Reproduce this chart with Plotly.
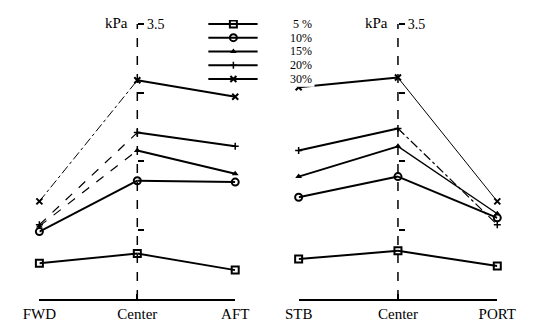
import plotly.graph_objects as go

# Pressure (kPa) along the fore-aft and port-starboard sections
fore_aft = ["FWD", "Center", "AFT"]
port_stb = ["STB", "Center", "PORT"]
series = ["5 %", "10%", "15%", "20%", "30%"]

fa_values = {
    "5 %": [1.76, 1.83, 1.71],
    "10%": [1.99, 2.36, 2.35],
    "15%": [2.03, 2.58, 2.41],
    "20%": [2.04, 2.71, 2.61],
    "30%": [2.21, 3.09, 2.97],
}
ps_values = {
    "5 %": [1.79, 1.85, 1.74],
    "10%": [2.24, 2.39, 2.09],
    "15%": [2.39, 2.61, 2.12],
    "20%": [2.58, 2.74, 2.04],
    "30%": [3.04, 3.11, 2.21],
}
y_ticks = [2.0, 2.5, 3.0, 3.5]
y_tick_text = ["", "", "", "3.5"]

W, H = 534, 322
M_T, M_B = 20, 18
PLOT_H = H - M_T - M_B
Y_MIN = 1.5
Y_MAX = Y_MIN + PLOT_H / 140.0

SERIF = "Liberation Serif, Times New Roman, serif"

markers = {
    "5 %": dict(symbol="square-open", size=7, line=dict(width=2, color="black")),
    "10%": dict(symbol="circle-open", size=7, line=dict(width=2, color="black")),
    "15%": dict(symbol="triangle-up", size=6, line=dict(width=0)),
    "20%": dict(symbol="cross-thin", size=5, line=dict(width=1.5, color="black")),
    "30%": dict(symbol="x-thin", size=6, line=dict(width=2, color="black")),
}

# segment styles: (first segment, second segment) for each panel
fa_styles = {
    "5 %": [("solid", 2), ("solid", 2)],
    "10%": [("solid", 2), ("solid", 2)],
    "15%": [("dash", 1.2), ("solid", 2)],
    "20%": [("dash", 1.2), ("solid", 2)],
    "30%": [("dashdot", 1), ("solid", 2)],
}
ps_styles = {
    "5 %": [("solid", 2), ("solid", 2)],
    "10%": [("solid", 2), ("solid", 2)],
    "15%": [("solid", 2), ("solid", 1.3)],
    "20%": [("solid", 2), ("dashdot", 1.2)],
    "30%": [("solid", 2), ("solid", 1)],
}

fig = go.Figure()


def add_panel(cats, values, styles, xa, ya):
    for name in series:
        vals = values[name]
        for i in range(len(cats) - 1):
            dash, width = styles[name][i]
            fig.add_trace(go.Scatter(
                x=cats[i:i + 2], y=vals[i:i + 2], mode="lines",
                line=dict(color="black", width=width, dash=dash),
                xaxis=xa, yaxis=ya, showlegend=False, hoverinfo="skip",
                cliponaxis=False,
            ))
        fig.add_trace(go.Scatter(
            x=cats, y=vals, mode="markers",
            marker=dict(color="black", **markers[name]),
            xaxis=xa, yaxis=ya, showlegend=False, cliponaxis=False,
        ))


add_panel(fore_aft, fa_values, fa_styles, "x", "y")
add_panel(port_stb, ps_values, ps_styles, "x2", "y2")

# key: sample lines with markers, labels on the right
for i, name in enumerate(series):
    fig.add_trace(go.Scatter(
        x=[0, 0.465], y=[i, i], mode="lines",
        line=dict(color="black", width=2),
        xaxis="x3", yaxis="y3", showlegend=False, hoverinfo="skip",
    ))
    fig.add_trace(go.Scatter(
        x=[0.237], y=[i], mode="markers",
        marker=dict(color="black", **markers[name]),
        xaxis="x3", yaxis="y3", showlegend=False, hoverinfo="skip",
    ))
    fig.add_annotation(
        x=1, y=i, xref="x3", yref="y3", text=name, showarrow=False,
        xanchor="right", yanchor="middle",
        font=dict(family=SERIF, size=12, color="black"),
    )


def px_x(p):
    return p / W


def px_y(p):
    return (H - M_B - p) / PLOT_H


x_common = dict(
    type="category", range=[0, 2], showline=True, linewidth=2, linecolor="black",
    ticks="inside", ticklen=5, tickwidth=1.5, tickcolor="black",
    showgrid=False, zeroline=False,
    tickfont=dict(family=SERIF, size=15, color="black"),
)
y_common = dict(
    range=[Y_MIN, Y_MAX], domain=[0, 1], anchor="free", side="right",
    showline=False, ticks="outside", ticklen=6, tickwidth=2, tickcolor="black",
    tickvals=y_ticks, ticktext=y_tick_text, showgrid=False, zeroline=False,
    tickfont=dict(family=SERIF, size=14, color="black"),
)

leg_top, leg_bot = 20, 88
fig.update_layout(
    width=W, height=H,
    margin=dict(l=0, r=0, t=M_T, b=M_B),
    paper_bgcolor="white", plot_bgcolor="white",
    showlegend=False,
    xaxis=dict(domain=[px_x(24), px_x(234)], anchor="y",
               categoryorder="array", categoryarray=fore_aft, **x_common),
    xaxis2=dict(domain=[px_x(302), px_x(515)], anchor="y2",
                categoryorder="array", categoryarray=port_stb, **x_common),
    yaxis=dict(position=px_x(129), **y_common),
    yaxis2=dict(position=px_x(408.5), overlaying="y", **y_common),
    xaxis3=dict(domain=[px_x(205), px_x(319)], range=[0, 1], visible=False,
                anchor="y3"),
    yaxis3=dict(domain=[px_y(leg_bot), px_y(leg_top)],
                range=[(leg_bot - 24) / 14.0, (leg_top - 24) / 14.0],
                visible=False, anchor="x3"),
)

# dashed centre axes
for xr, yr in (("x", "y"), ("x2", "y2")):
    fig.add_shape(type="line", xref=xr, yref=yr, x0=1, x1=1, y0=Y_MIN, y1=3.5,
                  line=dict(color="black", width=1.5, dash="dash"), layer="below")

for xpos in (107, 386):
    fig.add_annotation(x=px_x(xpos), y=px_y(23), xref="paper", yref="paper",
                       text="kPa", showarrow=False, xanchor="center",
                       yanchor="middle",
                       font=dict(family=SERIF, size=15, color="black"))

fig.write_html("out.html")
